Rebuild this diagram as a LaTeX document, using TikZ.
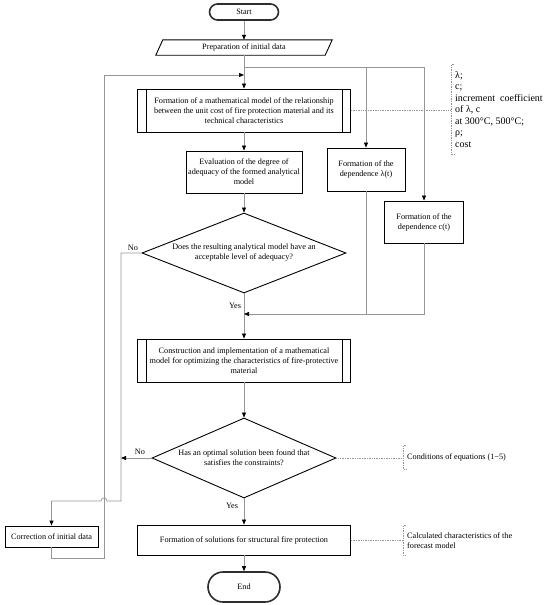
\documentclass[tikz,border=0pt]{standalone}
\usepackage{fontspec}
\setmainfont{Liberation Serif}
\usetikzlibrary{arrows.meta,shapes.geometric}
\definecolor{connGray}{RGB}{150,150,150}
\definecolor{termGray}{RGB}{45,45,45}
\begin{document}
\begin{tikzpicture}[x=1pt,y=-1pt,
  every node/.style={font=\fontsize{8.2}{10}\selectfont},
  box/.style={draw=black,line width=0.9pt,fill=white,align=center,inner sep=1pt},
  termbox/.style={draw=termGray,line width=1.6pt,align=center,inner sep=0pt},
  decision/.style={diamond,draw=black,line width=0.9pt,align=center,inner sep=0pt},
  link/.style={draw=connGray,line width=0.7pt},
  arr/.style={link,-{Triangle[length=5pt,width=4pt,color=black]}},
  dotline/.style={draw=connGray,line width=0.7pt,densely dotted},
  lbl/.style={inner sep=0pt},
  note/.style={align=left,inner xsep=4pt,inner ysep=2pt}]
\useasboundingbox (0,0) rectangle (550,605);

% nodes
\node[termbox,minimum width=69pt,minimum height=16pt,rounded corners=8pt] (start) at (244,12) {Start};
\node[minimum width=176pt,minimum height=15pt,inner sep=0pt] (prep) at (244,47.5) {Preparation of initial data};
\draw[black,line width=0.9pt] ([xshift=7pt]prep.north west) -- (prep.north east) -- ([xshift=-7pt]prep.south east) -- (prep.south west) -- cycle;

\node[box,minimum width=213pt,minimum height=43pt] (b1) at (244,110.5) {Formation of a mathematical model of the relationship\\between the unit cost of fire protection material and its\\technical characteristics};
\draw[black,line width=0.9pt] ([xshift=9pt]b1.north west) -- ([xshift=9pt]b1.south west) ([xshift=-9pt]b1.north east) -- ([xshift=-9pt]b1.south east);

\node[box,minimum width=116pt,minimum height=42pt] (eval) at (244,172) {Evaluation of the degree of\\adequacy of the formed analytical\\model};
\node[box,minimum width=78pt,minimum height=43pt] (lam) at (366,169.5) {Formation of the\\dependence λ(t)};
\node[box,minimum width=79pt,minimum height=42pt] (cdep) at (424,222) {Formation of the\\dependence c(t)};

\node[decision,minimum width=204pt,minimum height=80pt,aspect=2.55] (d1) at (244,253) {Does the resulting analytical model have an\\acceptable level of adequacy?};

\node[box,minimum width=213pt,minimum height=43pt] (b2) at (244,360.5) {Construction and implementation of a mathematical\\model for optimizing the characteristics of fire-protective\\material};
\draw[black,line width=0.9pt] ([xshift=9pt]b2.north west) -- ([xshift=9pt]b2.south west) ([xshift=-9pt]b2.north east) -- ([xshift=-9pt]b2.south east);

\node[decision,minimum width=184pt,minimum height=80pt,aspect=2.3] (d2) at (244,458) {Has an optimal solution been found that\\satisfies the constraints?};

\node[box,minimum width=93pt,minimum height=21pt] (corr) at (51.5,536.5) {Correction of initial data};
\node[box,minimum width=213pt,minimum height=30pt] (b3) at (244,540) {Formation of solutions for structural fire protection};
\node[termbox,minimum width=72pt,minimum height=30pt,rounded corners=15pt] (stop) at (244,587) {End};

% notes
\node[note,anchor=west,minimum height=89pt,font=\fontsize{10}{11.5}\selectfont] (note1) at (451,109.5) {λ;\\c;\\increment\ \ coefficient\\of λ, c\\at 300°C, 500°C;\\ρ;\\cost};
\node[note,anchor=west,minimum height=23pt] (note2) at (403,457.5) {Conditions of equations (1−5)};
\node[note,anchor=west,minimum height=29pt] (note3) at (403,540.5) {Calculated characteristics of the\\forecast model};

% labels
\node[lbl] (no1) at (133,248) {No};
\node[lbl] (yes1) at (235,306) {Yes};
\node[lbl] (no2) at (140,452) {No};
\node[lbl] (yes2) at (232,506) {Yes};

% coordinates
\coordinate (j0) at (244,67);
\coordinate (fb) at (244,75);
\coordinate (m1) at (244,314);
\coordinate (n1) at (121,253);
\coordinate (n2) at (121,501);
\coordinate (c1) at (51.5,501);
\coordinate (f1) at (51.5,558);
\coordinate (f2) at (104,558);
\coordinate (f3) at (104,75);

% connectors
\draw[arr] (start) -- (prep);
\draw[arr] (prep.south) -- (b1.north);
\draw[arr] (j0) -| (cdep.north);
\draw[arr] (j0 -| lam.north) -- (lam.north);
\draw[arr] (b1) -- (eval);
\draw[arr] (eval) -- (d1.north);
\draw[arr] (d1.south) -- (b2.north);
\draw[arr] (cdep.south) |- (m1);
\draw[link] (lam.south) -- (lam.south |- m1);
\draw[arr] (b2) -- (d2.north);
\draw[arr] (d2.south) -- (b3.north);
\draw[arr] (b3) -- (stop);
\draw[arr] (d1.west) -- (n1) -- (n2) -- (107,501) arc[start angle=0,end angle=180,radius=3pt] -- (c1) -- (corr.north);
\draw[arr] (d2.west) -- (d2.west -| n1);
\draw[arr] (corr.south) -- (f1) -- (f2) -- (f3) -- (fb);

% dotted annotations
\draw[dotline] (b1.east) -- (b1.east -| note1.west);
\draw[dotline] (d2.east) -- (d2.east -| note2.west);
\draw[dotline] (b3.east) -- (b3.east -| note3.west);
\draw[dotline] ([xshift=3pt]note1.north west) -- (note1.north west) -- (note1.south west) -- ([xshift=3pt]note1.south west);
\draw[dotline] ([xshift=3pt]note2.north west) -- (note2.north west) -- (note2.south west) -- ([xshift=3pt]note2.south west);
\draw[dotline] ([xshift=3pt]note3.north west) -- (note3.north west) -- (note3.south west) -- ([xshift=3pt]note3.south west);
\end{tikzpicture}
\end{document}
